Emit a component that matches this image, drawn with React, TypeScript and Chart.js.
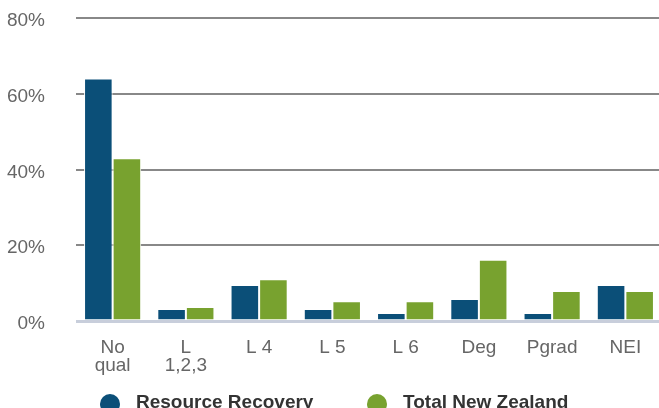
import React, { useEffect, useRef } from "react";
import { Chart, registerables } from "chart.js";

Chart.register(...registerables);

const categories: (string | string[])[] = [["No", "qual"], ["L", "1,2,3"], "L 4", "L 5", "L 6", "Deg", "Pgrad", "NEI"];
const seriesNames = ["Resource Recovery", "Total New Zealand"];
const resourceRecovery = [64, 3.2, 9.5, 3.2, 2.1, 5.8, 2.1, 9.5];
const totalNewZealand = [43, 3.7, 11, 5.2, 5.2, 16.2, 7.9, 7.9];
const yMin = 0;
const yMax = 80;
const yStep = 20;

const BLUE = "#0b4f78";
const GREEN = "#78a22f";
const FONT = "Arial, 'Liberation Sans', sans-serif";

const bottomLegend = {
  id: "bottomLegend",
  afterDraw(chart: any) {
    const ctx = chart.ctx;
    const xs = [110, 377];
    chart.data.datasets.forEach((ds: any, i: number) => {
      ctx.save();
      ctx.fillStyle = ds.backgroundColor;
      ctx.beginPath();
      ctx.arc(xs[i], 404, 10, 0, Math.PI * 2);
      ctx.fill();
      ctx.fillStyle = "#333333";
      ctx.font = `bold 19px ${FONT}`;
      ctx.textBaseline = "middle";
      ctx.textAlign = "left";
      ctx.fillText(ds.label, xs[i] + 26, 403);
      ctx.restore();
    });
  },
};

export default function App() {
  const ref = useRef<HTMLCanvasElement | null>(null);

  useEffect(() => {
    document.body.style.margin = "0";
    document.body.style.overflow = "hidden";
    const canvas = ref.current;
    if (!canvas) return;
    const chart = new Chart(canvas, {
      type: "bar",
      data: {
        labels: categories,
        datasets: [
          {
            label: seriesNames[0],
            data: resourceRecovery,
            backgroundColor: BLUE,
            borderColor: "#ffffff",
            borderWidth: 1,
            borderSkipped: "start",
            barPercentage: 1,
            categoryPercentage: 0.78,
          },
          {
            label: seriesNames[1],
            data: totalNewZealand,
            backgroundColor: GREEN,
            borderColor: "#ffffff",
            borderWidth: 1,
            borderSkipped: "start",
            barPercentage: 1,
            categoryPercentage: 0.78,
          },
        ],
      },
      options: {
        responsive: false,
        animation: false,
        devicePixelRatio: 1,
        layout: { padding: { top: 18, bottom: 33, left: 0, right: 0 } },
        plugins: {
          legend: { display: false },
          tooltip: { enabled: false },
        },
        scales: {
          x: {
            grid: { display: false, drawTicks: true, tickLength: 18 },
            border: { display: false },
            ticks: {
              color: "#666666",
              padding: 0,
              maxRotation: 0,
              autoSkip: false,
              font: { family: FONT, size: 19, lineHeight: "18px" },
            },
          },
          y: {
            min: yMin,
            max: yMax,
            afterFit: (axis: any) => {
              axis.width = 76;
            },
            border: { display: false },
            grid: {
              drawTicks: true,
              tickLength: 31,
              tickColor: "rgba(0,0,0,0)",
              color: (c: any) => (c.tick && c.tick.value === 0 ? "#c8cedb" : "#888888"),
              lineWidth: (c: any) => (c.tick && c.tick.value === 0 ? 3 : 2),
            },
            ticks: {
              stepSize: yStep,
              color: "#666666",
              padding: 0,
              labelOffset: 3,
              font: { family: FONT, size: 19 },
              callback: (v: any) => `${v}%`,
            },
          },
        },
      },
      plugins: [bottomLegend],
    });
    return () => chart.destroy();
  }, []);

  return <canvas ref={ref} width={662} height={408} style={{ display: "block" }} />;
}
